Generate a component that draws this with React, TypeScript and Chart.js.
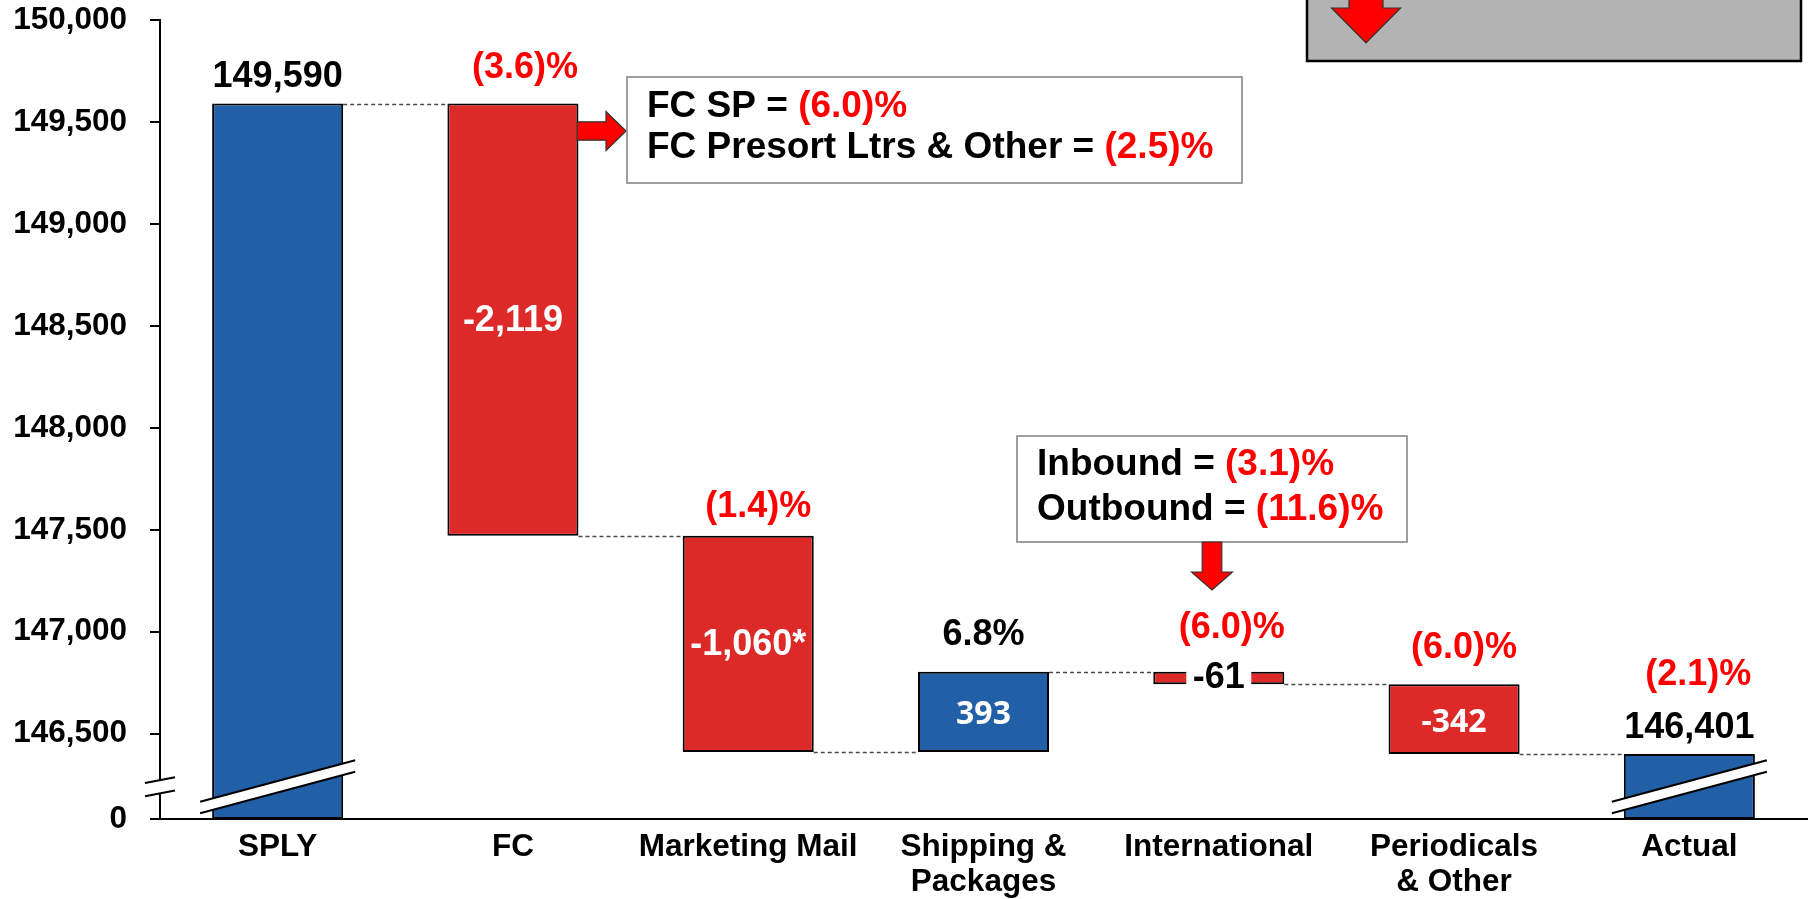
import { useEffect, useRef } from "react";
import { Chart, registerables } from "chart.js";

Chart.register(...registerables);

// ---------------- data ----------------
const CATEGORIES: (string | string[])[] = [
  "SPLY",
  "FC",
  "Marketing Mail",
  ["Shipping &", "Packages"],
  "International",
  ["Periodicals", "& Other"],
  "Actual",
];
const START_VALUE = 149590;
const CHANGES = [-2119, -1060, 393, -61, -342];
const END_VALUE = 146401;
const VALUE_LABELS = ["149,590", "-2,119", "-1,060*", "393", "-61", "-342", "146,401"];
const PCT_LABELS = ["", "(3.6)%", "(1.4)%", "6.8%", "(6.0)%", "(6.0)%", "(2.1)%"];
const Y_TICKS = [146500, 147000, 147500, 148000, 148500, 149000, 149500, 150000];
const Y_MAX = 150000;
const AXIS_FLOOR = 146082; // value shown as "0" below the axis break
const BREAK_AT = 146240; // where the axis break is drawn
const FC_NOTES = [
  ["FC SP = ", "(6.0)%"],
  ["FC Presort Ltrs & Other = ", "(2.5)%"],
];
const INTL_NOTES = [
  ["Inbound = ", "(3.1)%"],
  ["Outbound = ", "(11.6)%"],
];

// ---------------- styles ----------------
const BLUE = "#215FA6";
const RED_BAR = "#DE2929";
const RED_TEXT = "#FF0000";
const FONT = "'Liberation Sans', Arial, sans-serif";
const VALUE_STYLE = ["above", "inside", "inside", "insideAlt", "knockout", "insideAlt", "above"];
const VALUE_LIFT = [26.5, 0, 0, 0, 0, 0, 26];
const PCT_LIFT = [0, 36, 29, 37, 44, 36, 79];
const PCT_SHIFT = [0, 12, 10, 0, 13, 10, 9];

// build waterfall ranges
const ranges: [number, number][] = [];
const levels: number[] = [];
const kinds: string[] = [];
ranges.push([AXIS_FLOOR, START_VALUE]);
levels.push(START_VALUE);
kinds.push("total");
{
  let cur = START_VALUE;
  for (const d of CHANGES) {
    const next = cur + d;
    ranges.push([Math.min(cur, next), Math.max(cur, next)]);
    kinds.push(d < 0 ? "neg" : "pos");
    cur = next;
    levels.push(cur);
  }
}
ranges.push([AXIS_FLOOR, END_VALUE]);
kinds.push("total");

function arrow(
  ctx: CanvasRenderingContext2D,
  dir: "right" | "down",
  start: number,
  center: number,
  shaftEnd: number,
  tip: number,
  shaftHalf: number,
  headHalf: number
) {
  ctx.save();
  ctx.beginPath();
  if (dir === "right") {
    ctx.moveTo(start, center - shaftHalf);
    ctx.lineTo(shaftEnd, center - shaftHalf);
    ctx.lineTo(shaftEnd, center - headHalf);
    ctx.lineTo(tip, center);
    ctx.lineTo(shaftEnd, center + headHalf);
    ctx.lineTo(shaftEnd, center + shaftHalf);
    ctx.lineTo(start, center + shaftHalf);
  } else {
    ctx.moveTo(center - shaftHalf, start);
    ctx.lineTo(center - shaftHalf, shaftEnd);
    ctx.lineTo(center - headHalf, shaftEnd);
    ctx.lineTo(center, tip);
    ctx.lineTo(center + headHalf, shaftEnd);
    ctx.lineTo(center + shaftHalf, shaftEnd);
    ctx.lineTo(center + shaftHalf, start);
  }
  ctx.closePath();
  ctx.fillStyle = RED_TEXT;
  ctx.fill();
  ctx.strokeStyle = "#333";
  ctx.lineWidth = 1.2;
  ctx.stroke();
  ctx.restore();
}

function breakMark(
  ctx: CanvasRenderingContext2D,
  xc: number,
  yc: number,
  halfLen: number,
  slope: number,
  gap: number
) {
  const x1 = xc - halfLen;
  const x2 = xc + halfLen;
  const yTop = (x: number) => yc - gap / 2 + slope * (x - xc);
  const yBot = (x: number) => yc + gap / 2 + slope * (x - xc);
  ctx.save();
  ctx.beginPath();
  ctx.moveTo(x1, yTop(x1));
  ctx.lineTo(x2, yTop(x2));
  ctx.lineTo(x2, yBot(x2));
  ctx.lineTo(x1, yBot(x1));
  ctx.closePath();
  ctx.fillStyle = "#fff";
  ctx.fill();
  ctx.strokeStyle = "#000";
  ctx.lineWidth = 2;
  ctx.beginPath();
  ctx.moveTo(x1, yTop(x1));
  ctx.lineTo(x2, yTop(x2));
  ctx.moveTo(x1, yBot(x1));
  ctx.lineTo(x2, yBot(x2));
  ctx.stroke();
  ctx.restore();
}

function noteBox(
  ctx: CanvasRenderingContext2D,
  x: number,
  y: number,
  w: number,
  h: number,
  textX: number,
  lineYs: number[],
  lines: string[][],
  size: number
) {
  ctx.save();
  ctx.fillStyle = "#fff";
  ctx.fillRect(x, y, w, h);
  ctx.strokeStyle = "#7F7F7F";
  ctx.lineWidth = 1.5;
  ctx.strokeRect(x, y, w, h);
  ctx.font = `bold ${size}px ${FONT}`;
  ctx.textBaseline = "middle";
  ctx.textAlign = "left";
  lines.forEach((segs, i) => {
    let cx = textX;
    ctx.fillStyle = "#000";
    ctx.fillText(segs[0], cx, lineYs[i]);
    cx += ctx.measureText(segs[0]).width;
    ctx.fillStyle = RED_TEXT;
    ctx.fillText(segs[1], cx, lineYs[i]);
  });
  ctx.restore();
}

const waterfallPlugin = {
  id: "waterfallDecor",
  afterDatasetsDraw(chart: any) {
    const ctx: CanvasRenderingContext2D = chart.ctx;
    const meta = chart.getDatasetMeta(0);
    const y = chart.scales.y;
    // connectors
    ctx.save();
    ctx.strokeStyle = "#4A4A4A";
    ctx.lineWidth = 1.5;
    ctx.setLineDash([4, 3]);
    for (let i = 0; i < meta.data.length - 1; i++) {
      const a = meta.data[i];
      const b = meta.data[i + 1];
      const yy = Math.round(y.getPixelForValue(levels[i])) + 0.5;
      ctx.beginPath();
      ctx.moveTo(a.x + a.width / 2, yy);
      ctx.lineTo(b.x - b.width / 2, yy);
      ctx.stroke();
    }
    ctx.restore();
  },
  afterDraw(chart: any) {
    const ctx: CanvasRenderingContext2D = chart.ctx;
    const meta = chart.getDatasetMeta(0);
    const yScale = chart.scales.y;
    const area = chart.chartArea;
    const breakY = yScale.getPixelForValue(BREAK_AT);

    // breaks on total bars and on axis
    [0, meta.data.length - 1].forEach((i) => {
      const el = meta.data[i];
      breakMark(ctx, el.x, breakY, el.width / 2 + 12, -0.268, 11.5);
    });
    breakMark(ctx, area.left, breakY, 15, -0.19, 13.3);

    // labels
    ctx.save();
    ctx.textAlign = "center";
    ctx.textBaseline = "middle";
    meta.data.forEach((el: any, i: number) => {
      const top = Math.min(el.y, el.base);
      const bot = Math.max(el.y, el.base);
      const mid = (top + bot) / 2;
      const st = VALUE_STYLE[i];
      const txt = VALUE_LABELS[i];
      if (st === "above") {
        ctx.font = `bold 36px ${FONT}`;
        ctx.fillStyle = "#000";
        ctx.fillText(txt, el.x, top - VALUE_LIFT[i]);
      } else if (st === "inside") {
        ctx.font = `bold 36px ${FONT}`;
        ctx.fillStyle = "#fff";
        ctx.fillText(txt, el.x, mid + 1);
      } else if (st === "insideAlt") {
        ctx.font = `bold 32px 'Open Sans', ${FONT}`;
        ctx.fillStyle = "#fff";
        ctx.fillText(txt, el.x, mid + 3.5);
      } else if (st === "knockout") {
        ctx.font = `bold 36px ${FONT}`;
        const w = ctx.measureText(txt).width + 13;
        ctx.fillStyle = "#fff";
        ctx.fillRect(el.x - w / 2, top - 2, w, bot - top + 4);
        ctx.fillStyle = "#000";
        ctx.fillText(txt, el.x, mid);
      }
      const p = PCT_LABELS[i];
      if (p) {
        ctx.font = `bold 36px ${FONT}`;
        ctx.fillStyle = p.startsWith("(") ? RED_TEXT : "#000";
        ctx.fillText(p, el.x + PCT_SHIFT[i], top - PCT_LIFT[i]);
      }
    });
    ctx.restore();

    // grey box top right
    ctx.save();
    ctx.fillStyle = "#B3B3B3";
    ctx.fillRect(1307, -4, 494, 65);
    ctx.strokeStyle = "#000";
    ctx.lineWidth = 2.5;
    ctx.strokeRect(1307, -4, 494, 65);
    ctx.restore();
    arrow(ctx, "down", -10, 1366, 8, 43, 17, 34.5);

    // FC note
    arrow(ctx, "right", 577, 131, 606, 626, 9.2, 19.5);
    noteBox(ctx, 627, 77, 615, 106, 647, [107, 148], FC_NOTES, 37);

    // International note
    noteBox(ctx, 1017, 436, 390, 106, 1037, [465, 510], INTL_NOTES, 37);
    arrow(ctx, "down", 542, 1212, 572, 590, 9.8, 20.5);
  },
};

export default function App() {
  const ref = useRef<HTMLCanvasElement>(null);
  useEffect(() => {
    const canvas = ref.current;
    if (!canvas) return;
    const chart = new Chart(canvas, {
      type: "bar",
      data: {
        labels: CATEGORIES as any,
        datasets: [
          {
            data: ranges as any,
            backgroundColor: kinds.map((k) => (k === "neg" ? RED_BAR : BLUE)),
            borderColor: "#000",
            borderWidth: 2,
            borderSkipped: false,
            barPercentage: 0.557,
            categoryPercentage: 1,
          },
        ],
      },
      options: {
        responsive: false,
        animation: false,
        devicePixelRatio: 1,
        layout: { padding: { left: 0, right: 7, top: 20, bottom: 0 } },
        plugins: {
          legend: { display: false },
          tooltip: { enabled: false },
        },
        scales: {
          x: {
            type: "category",
            offset: true,
            grid: { display: false, drawTicks: false },
            border: { display: true, color: "#000", width: 2 },
            ticks: {
              color: "#000",
              padding: 10.5,
              maxRotation: 0,
              autoSkip: false,
              font: { family: FONT, size: 31.5, weight: "bold", lineHeight: 1.111 },
            },
            afterFit: (s: any) => {
              s.height = 80;
              s.paddingLeft = 0;
              s.paddingRight = 0;
            },
          },
          y: {
            type: "linear",
            min: AXIS_FLOOR,
            max: Y_MAX,
            grid: {
              display: true,
              drawOnChartArea: false,
              drawTicks: true,
              tickLength: 10,
              color: "#000",
              lineWidth: 2,
            },
            border: { display: true, color: "#000", width: 2 },
            ticks: {
              color: "#000",
              padding: 23,
              font: { family: FONT, size: 31.5, weight: "bold" },
              callback: (v: any) => (Number(v) === AXIS_FLOOR ? "0" : Number(v).toLocaleString("en-US")),
            },
            afterBuildTicks: (s: any) => {
              s.ticks = [AXIS_FLOOR, ...Y_TICKS].map((v) => ({ value: v }));
            },
            afterFit: (s: any) => {
              s.width = 160;
              s.paddingTop = 0;
              s.paddingBottom = 0;
            },
          },
        },
      },
      plugins: [waterfallPlugin],
    });
    return () => chart.destroy();
  }, []);
  return (
    <div style={{ position: "fixed", left: 0, top: 0, width: 1814, height: 899, background: "#fff" }}>
      <canvas ref={ref} width={1814} height={899} style={{ display: "block", width: 1814, height: 899 }} />
    </div>
  );
}
